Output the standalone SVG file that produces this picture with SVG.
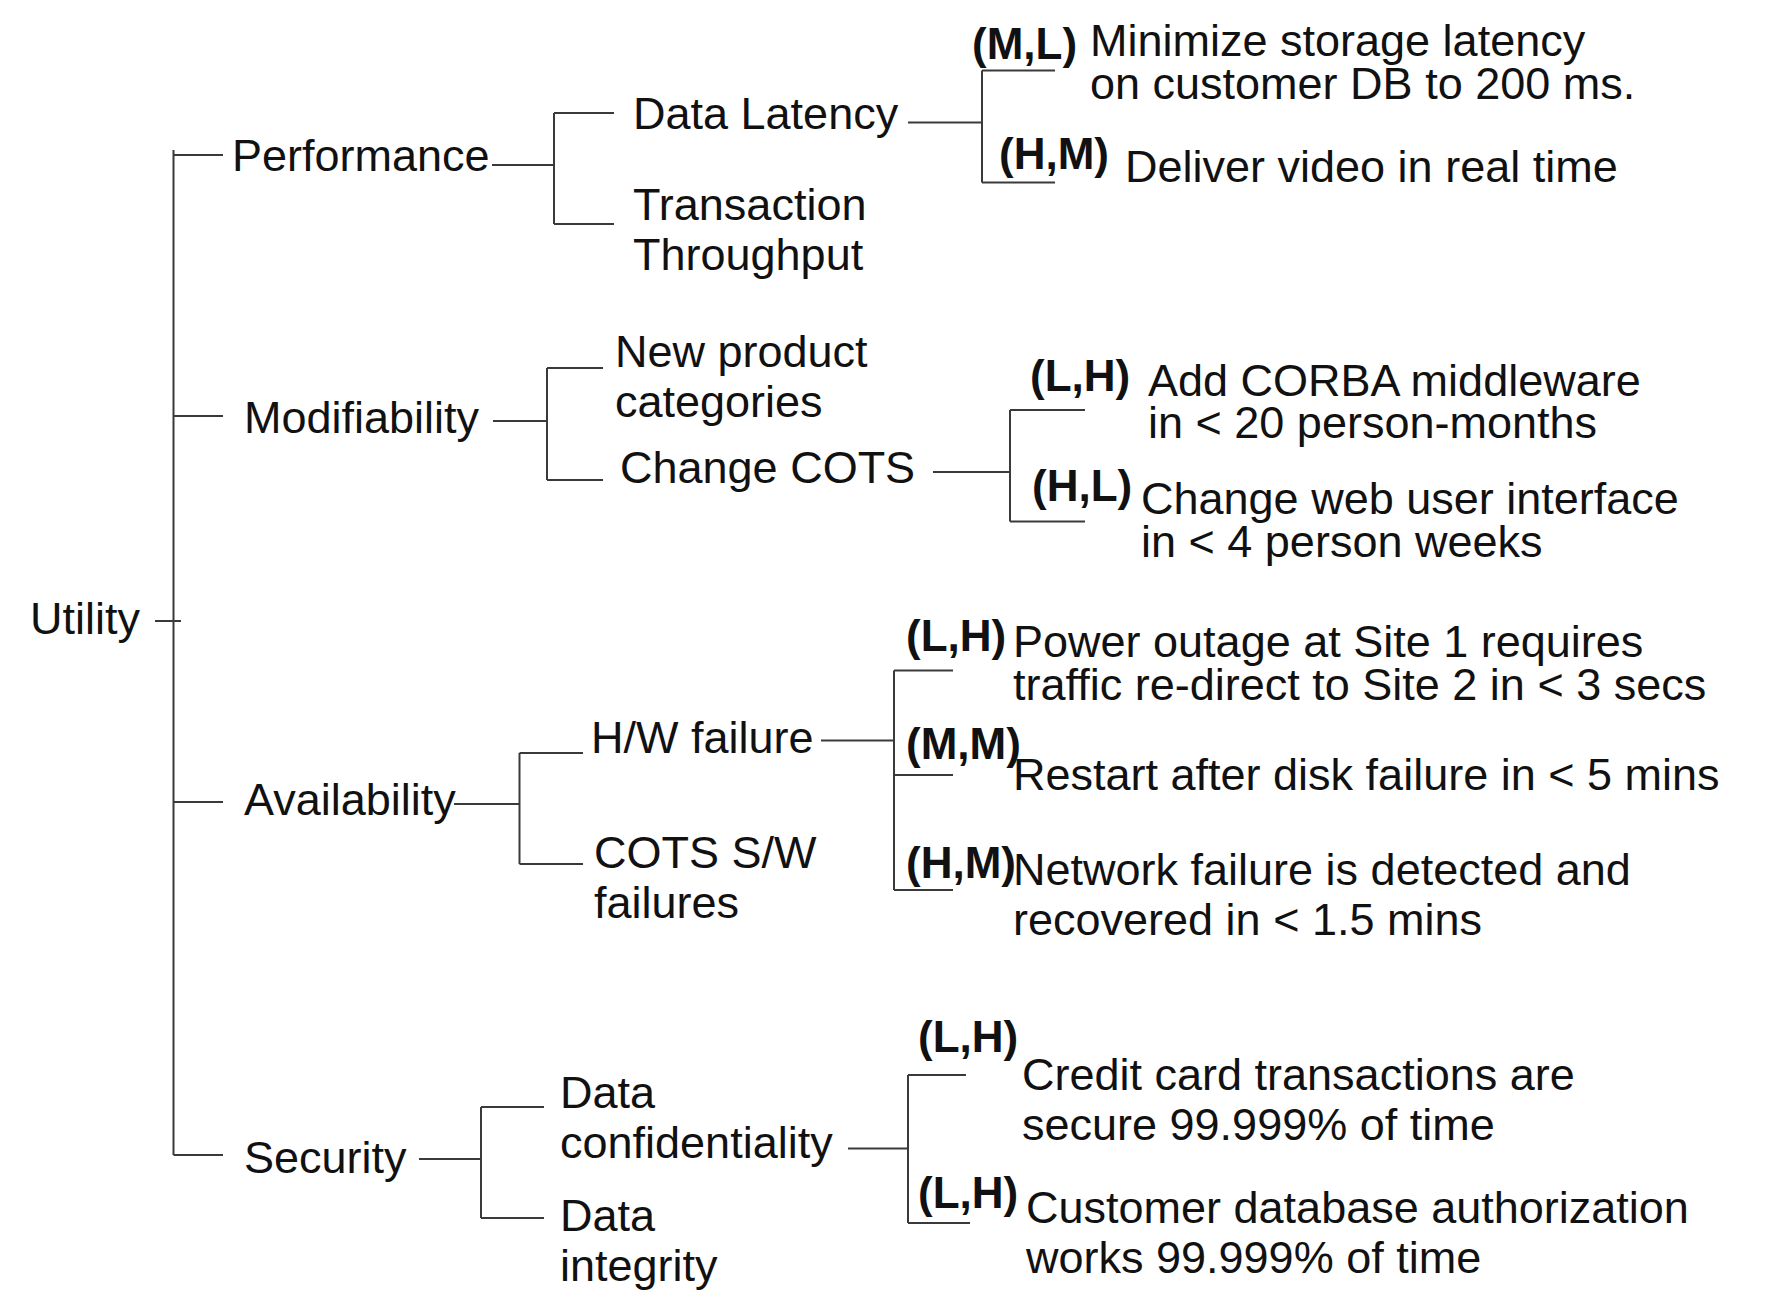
<svg xmlns="http://www.w3.org/2000/svg" width="1778" height="1304" viewBox="0 0 1778 1304">
<style>
  text { font-family: "Liberation Sans", Arial, sans-serif; font-size: 45px; fill: #111; }
  .r { font-weight: bold; font-size: 44px; }
  .c { fill: none; stroke: #3a3a3a; stroke-width: 2; }
</style>
<rect width="1778" height="1304" fill="#fff"/>
<g id="connectors" class="c">
  <!-- root -->
  <path d="M155,621 H181"/>
  <path d="M173.5,150 V1155 M173.5,155 H223 M173.5,416 H223 M173.5,802 H223 M173.5,1155 H223"/>
  <!-- performance -->
  <path d="M492,165 H554 M554,113 V224 M554,113 H614 M554,224 H614"/>
  <path d="M908,122.5 H982 M982,70.5 V182.5 M982,70.5 H1055 M982,182.5 H1055"/>
  <!-- modifiability -->
  <path d="M493,421 H547 M547,368 V480 M547,368 H603 M547,480 H603"/>
  <path d="M933,472 H1010 M1010,410 V521.5 M1010,410 H1085 M1010,521.5 H1085"/>
  <!-- availability -->
  <path d="M454,804 H519.5 M519.5,753 V864 M519.5,753 H583 M519.5,864 H583"/>
  <path d="M821,740.5 H894 M894,670.5 V890 M894,670.5 H953 M894,775 H953 M894,890 H953"/>
  <!-- security -->
  <path d="M419,1159 H481 M481,1107 V1218 M481,1107 H544 M481,1218 H544"/>
  <path d="M848,1148.5 H908 M908,1075 V1223 M908,1075 H966 M908,1223 H970"/>
</g>
<g id="utility"><text x="30" y="634">Utility</text></g>
<g id="performance"><text x="232" y="171">Performance</text></g>
<g id="data-latency"><text x="633" y="129">Data Latency</text></g>
<g id="transaction-throughput"><text x="633" y="220">Transaction</text><text x="633" y="270">Throughput</text></g>
<g id="s-storage-latency"><text class="r" x="972" y="59">(M,L)</text><text x="1090" y="56">Minimize storage latency</text><text x="1090" y="99">on customer DB to 200 ms.</text></g>
<g id="s-video"><text class="r" x="999" y="169">(H,M)</text><text x="1125" y="182">Deliver video in real time</text></g>
<g id="modifiability"><text x="244" y="433">Modifiability</text></g>
<g id="new-product"><text x="615" y="367">New product</text><text x="615" y="417">categories</text></g>
<g id="change-cots"><text x="620" y="483">Change COTS</text></g>
<g id="s-corba"><text class="r" x="1030" y="391">(L,H)</text><text x="1148" y="396">Add CORBA middleware</text><text x="1148" y="438">in &lt; 20 person-months</text></g>
<g id="s-web-ui"><text class="r" x="1032" y="501">(H,L)</text><text x="1141" y="514">Change web user interface</text><text x="1141" y="557">in &lt; 4 person weeks</text></g>
<g id="availability"><text x="244" y="815">Availability</text></g>
<g id="hw-failure"><text x="591" y="753">H/W failure</text></g>
<g id="cots-sw"><text x="594" y="868">COTS S/W</text><text x="594" y="918">failures</text></g>
<g id="s-power"><text class="r" x="906" y="651">(L,H)</text><text x="1013" y="657">Power outage at Site 1 requires</text><text x="1013" y="700">traffic re-direct to Site 2 in &lt; 3 secs</text></g>
<g id="s-disk"><text class="r" x="906" y="759">(M,M)</text><text x="1013" y="790">Restart after disk failure in &lt; 5 mins</text></g>
<g id="s-network"><text class="r" x="906" y="878">(H,M)</text><text x="1013" y="885">Network failure is detected and</text><text x="1013" y="935">recovered in &lt; 1.5 mins</text></g>
<g id="security"><text x="244" y="1173">Security</text></g>
<g id="data-confidentiality"><text x="560" y="1108">Data</text><text x="560" y="1158">confidentiality</text></g>
<g id="data-integrity"><text x="560" y="1231">Data</text><text x="560" y="1281">integrity</text></g>
<g id="s-credit"><text class="r" x="918" y="1052">(L,H)</text><text x="1022" y="1090">Credit card transactions are</text><text x="1022" y="1140">secure 99.999% of time</text></g>
<g id="s-authz"><text class="r" x="918" y="1208">(L,H)</text><text x="1026" y="1223">Customer database authorization</text><text x="1026" y="1273">works 99.999% of time</text></g>
</svg>
